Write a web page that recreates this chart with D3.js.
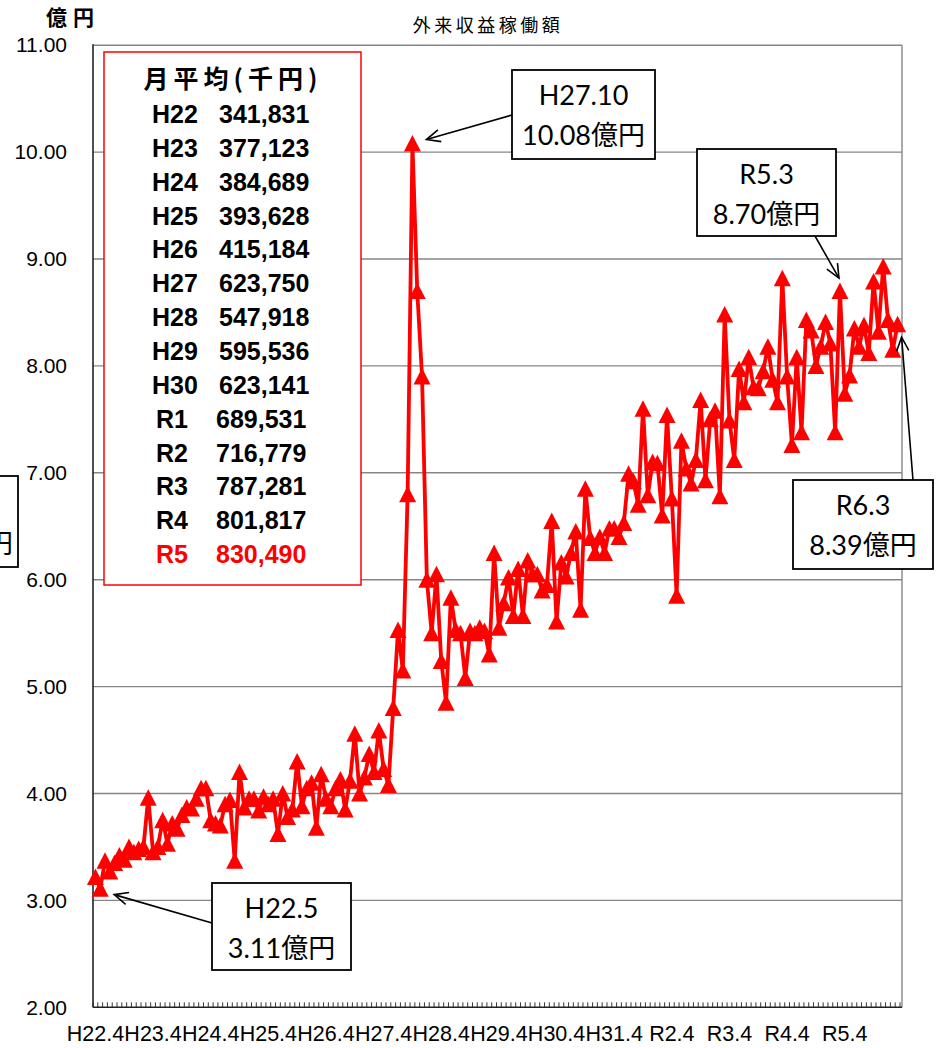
<!DOCTYPE html>
<html>
<head>
<meta charset="utf-8">
<script src="https://cdn.jsdelivr.net/npm/d3@7"></script>
<style>
  body { margin: 0; background: #fff; }
  svg { display: block; }
</style>
</head>
<body>
<div id="chart"></div>
<script>
// monthly 外来収益 (億円), one array per fiscal year, april -> march
const fyH22 = [3.22, 3.11, 3.37, 3.27, 3.35, 3.42, 3.38, 3.50, 3.45, 3.48, 3.50, 3.96]
const fyH23 = [3.45, 3.50, 3.75, 3.53, 3.72, 3.67, 3.80, 3.87, 3.86, 3.95, 4.05, 4.05]
const fyH24 = [3.75, 3.72, 3.70, 3.90, 3.94, 3.37, 4.20, 3.87, 3.95, 3.95, 3.84, 3.97]
const fyH25 = [3.90, 3.95, 3.62, 4.00, 3.78, 3.85, 4.30, 3.88, 4.05, 4.10, 3.68, 4.18]
const fyH26 = [3.95, 3.88, 4.05, 4.13, 3.85, 4.12, 4.56, 4.00, 4.15, 4.37, 4.20, 4.59]
const fyH27 = [4.23, 4.08, 4.80, 5.53, 5.15, 6.80, 10.08, 8.70, 7.90, 6.00, 5.50, 6.05]
const fyH28 = [5.24, 4.85, 5.83, 5.53, 5.50, 5.08, 5.52, 5.50, 5.55, 5.52, 5.30, 6.25]
const fyH29 = [5.55, 5.78, 6.02, 5.66, 6.10, 5.66, 6.18, 6.05, 6.05, 5.90, 5.95, 6.55]
const fyH30 = [5.61, 6.16, 6.03, 6.25, 6.45, 5.72, 6.85, 6.39, 6.25, 6.40, 6.25, 6.48]
const fyR1 = [6.48, 6.40, 6.53, 6.99, 6.92, 6.70, 7.60, 6.79, 7.10, 7.09, 6.60, 7.54]
const fyR2 = [6.76, 5.85, 7.30, 7.04, 6.90, 7.12, 7.68, 6.93, 7.50, 7.58, 6.78, 8.48]
const fyR3 = [7.49, 7.12, 7.97, 7.66, 8.08, 7.80, 7.79, 7.95, 8.18, 7.87, 7.66, 8.82]
const fyR4 = [7.90, 7.26, 8.08, 7.38, 8.43, 8.33, 8.00, 8.18, 8.41, 8.21, 7.38, 8.70]
const fyR5 = [7.74, 7.91, 8.35, 8.18, 8.38, 8.12, 8.79, 8.32, 8.93, 8.43, 8.15, 8.39]

const fiscalYears = [fyH22, fyH23, fyH24, fyH25, fyH26, fyH27, fyH28, fyH29, fyH30, fyR1, fyR2, fyR3, fyR4, fyR5]

const xTickLabels = ['H22.4', 'H23.4', 'H24.4', 'H25.4', 'H26.4', 'H27.4', 'H28.4', 'H29.4', 'H30.4', 'H31.4', 'R2.4', 'R3.4', 'R4.4', 'R5.4']
const yTicks = [2, 3, 4, 5, 6, 7, 8, 9, 10, 11]

// legend box: 月平均(千円)
const legendYears = ['H22', 'H23', 'H24', 'H25', 'H26', 'H27', 'H28', 'H29', 'H30', 'R1', 'R2', 'R3', 'R4', 'R5']
const legendAvgs = [341831, 377123, 384689, 393628, 415184, 623750, 547918, 595536, 623141, 689531, 716779, 787281, 801817, 830490]

// callouts: which month, second line
const calloutMonths = ['H27.10', 'R5.3', 'R6.3', 'H22.5']
const calloutTexts = ['10.08億円', '8.70億円', '8.39億円', '3.11億円']

// month names like H22.4 ... H31.4, R1.5 ... R6.3
function monthName(fy, m) {
  let yr = m >= 4 ? fy : fy + 1
  // reiwa starts may 2019 (H31 = 2019)
  if (yr > 31 || (yr === 31 && m >= 5)) return 'R' + (yr - 30) + '.' + m
  return 'H' + yr + '.' + m
}

const monthOrder = [4, 5, 6, 7, 8, 9, 10, 11, 12, 1, 2, 3]
let data = []
fiscalYears.forEach((vals, k) => {
  vals.forEach((v, j) => {
    data.push({ idx: data.length, name: monthName(22 + k, monthOrder[j]), value: v })
  })
})

const W = 938, H = 1048
const plotLeft = 93, plotRight = 900, plotTop = 45.2, plotBottom = 1007.3

let svg = d3.select('#chart').append('svg')
  .attr('width', W)
  .attr('height', H)

let x = d3.scaleBand()
  .domain(data.map(d => d.idx))
  .range([plotLeft, plotRight])

let y = d3.scaleLinear()
  .domain([2, 11])
  .range([plotBottom, plotTop])

const cx = i => x(i) + x.bandwidth() / 2

// gridlines
svg.append('g').selectAll('line')
  .data(yTicks.slice(1))
  .enter().append('line')
  .attr('x1', plotLeft).attr('x2', plotRight + 2)
  .attr('y1', d => y(d)).attr('y2', d => y(d))
  .attr('stroke', '#868686')
  .attr('stroke-width', 1.4)

// right border of plot area
svg.append('line')
  .attr('x1', plotRight + 2).attr('x2', plotRight + 2)
  .attr('y1', y(11)).attr('y2', y(2))
  .attr('stroke', '#868686').attr('stroke-width', 1.4)

// y axis labels
let yAxis = svg.append('g')
  .attr('transform', `translate(${plotLeft},0)`)
  .call(d3.axisLeft(y).tickValues(yTicks).tickFormat(d3.format('.2f')).tickSize(0).tickPadding(26))
yAxis.select('.domain').remove()
yAxis.selectAll('text')
  .attr('font-family', "'Liberation Sans', Arial, sans-serif")
  .attr('font-size', 21)
  .attr('fill', '#000')

// x axis labels, one per april
let xAxis = svg.append('g')
  .attr('transform', `translate(0,${plotBottom})`)
  .call(d3.axisBottom(x).tickValues(d3.range(0, data.length, 12)).tickFormat((d, i) => xTickLabels[i]).tickSize(0).tickPadding(18))
xAxis.select('.domain').remove()
xAxis.selectAll('text')
  .attr('font-family', "'Liberation Sans', Arial, sans-serif")
  .attr('font-size', 21.5)
  .attr('fill', '#000')

// small month ticks sitting on the axis
svg.append('g').selectAll('line')
  .data(d3.range(data.length + 1))
  .enter().append('line')
  .attr('x1', i => plotLeft + i * x.step()).attr('x2', i => plotLeft + i * x.step())
  .attr('y1', plotBottom).attr('y2', plotBottom - 5)
  .attr('stroke', '#222').attr('stroke-width', 0.9)

// axis lines
svg.append('line')
  .attr('x1', plotLeft).attr('x2', plotLeft)
  .attr('y1', y(11) - 1).attr('y2', plotBottom)
  .attr('stroke', '#222').attr('stroke-width', 1.6)
svg.append('line')
  .attr('x1', plotLeft).attr('x2', plotRight + 2)
  .attr('y1', plotBottom).attr('y2', plotBottom)
  .attr('stroke', '#222').attr('stroke-width', 1.6)

// title + unit
svg.append('text')
  .attr('x', 488).attr('y', 32)
  .attr('text-anchor', 'middle')
  .attr('font-family', "'Noto Sans CJK JP', sans-serif")
  .attr('font-size', 18)
  .attr('letter-spacing', 3.5)
  .text('外来収益稼働額')

svg.append('text')
  .attr('x', 46).attr('y', 25)
  .attr('font-family', "'Noto Sans CJK JP', sans-serif")
  .attr('font-size', 21)
  .attr('font-weight', 'bold')
  .attr('letter-spacing', 6)
  .text('億円')

// legend box with the yearly averages
let legend = svg.append('g')
legend.append('rect')
  .attr('x', 104).attr('y', 52)
  .attr('width', 257).attr('height', 533)
  .attr('fill', '#fff')
  .attr('stroke', '#ff0000')
  .attr('stroke-width', 1.5)

legend.append('text')
  .attr('x', 233).attr('y', 88)
  .attr('text-anchor', 'middle')
  .attr('font-family', "'Noto Sans CJK JP', sans-serif")
  .attr('font-size', 25)
  .attr('font-weight', 'bold')
  .attr('letter-spacing', 5)
  .text('月平均(千円)')

let rows = legend.selectAll('.row')
  .data(legendYears)
  .enter().append('g')
  .attr('class', 'row')
  .attr('font-family', "'Liberation Sans', Arial, sans-serif")
  .attr('font-size', 25)
  .attr('font-weight', 'bold')
  .attr('fill', (d, i) => i === legendYears.length - 1 ? '#ff0000' : '#000')

rows.append('text')
  .attr('x', d => d[0] === 'R' ? 156 : 152)
  .attr('y', (d, i) => 123 + i * 33.85)
  .text(d => d)

rows.append('text')
  .attr('x', d => d[0] === 'R' ? 216 : 219)
  .attr('y', (d, i) => 123 + i * 33.85)
  .text((d, i) => d3.format(',')(legendAvgs[i]))

// the red series
let line = d3.line()
  .x(d => cx(d.idx))
  .y(d => y(d.value))

svg.append('path')
  .datum(data)
  .attr('d', line)
  .attr('fill', 'none')
  .attr('stroke', '#ff0000')
  .attr('stroke-width', 3.8)
  .attr('stroke-linejoin', 'round')

svg.append('g').selectAll('path')
  .data(data)
  .enter().append('path')
  .attr('d', d => {
    let px = cx(d.idx), py = y(d.value)
    return `M${px},${py - 8.5}L${px + 8.5},${py + 8}L${px - 8.5},${py + 8}Z`
  })
  .attr('fill', '#ff0000')

// callout boxes + arrows
function arrow(g, x1, y1, x2, y2) {
  let a = Math.atan2(y2 - y1, x2 - x1), L = 15, w = 0.42
  g.append('line')
    .attr('x1', x1).attr('y1', y1).attr('x2', x2).attr('y2', y2)
    .attr('stroke', '#000').attr('stroke-width', 1.6)
  g.append('path')
    .attr('d', `M${x2 - L * Math.cos(a - w)},${y2 - L * Math.sin(a - w)}L${x2},${y2}L${x2 - L * Math.cos(a + w)},${y2 - L * Math.sin(a + w)}`)
    .attr('fill', 'none').attr('stroke', '#000').attr('stroke-width', 1.6)
}

// box position, where the arrow leaves the box, and offset of the tip from the point
const calloutLayout = [
  { bx: 512, by: 70, bw: 143, bh: 89, sx: 512, sy: 115, dx: 14, dy: -4 },
  { bx: 697, by: 149, bw: 139, bh: 87, sx: 815, sy: 236, dx: -1, dy: -13 },
  { bx: 793, by: 480, bw: 140, bh: 89, sx: 913, sy: 480, dx: 4, dy: 13 },
  { bx: 212, by: 883, bw: 139, bh: 87, sx: 212, sy: 923, dx: 14, dy: 6 }
]

let callouts = svg.append('g')
calloutMonths.forEach((m, i) => {
  let d = data.find(p => p.name === m)
  let c = calloutLayout[i]
  let g = callouts.append('g')
  g.append('rect')
    .attr('x', c.bx).attr('y', c.by)
    .attr('width', c.bw).attr('height', c.bh)
    .attr('fill', '#fff').attr('stroke', '#000').attr('stroke-width', 1.8)
  g.append('text')
    .attr('x', c.bx + c.bw / 2).attr('y', c.by + 35)
    .attr('text-anchor', 'middle')
    .attr('font-family', "Lato, 'Noto Sans CJK JP', sans-serif")
    .attr('font-size', 27)
    .text(m)
  g.append('text')
    .attr('x', c.bx + c.bw / 2).attr('y', c.by + 75)
    .attr('text-anchor', 'middle')
    .attr('font-family', "Lato, 'Noto Sans CJK JP', sans-serif")
    .attr('font-size', 27)
    .text(calloutTexts[i])
  arrow(g, c.sx, c.sy, cx(d.idx) + c.dx, y(d.value) + c.dy)
})

// box cut off by the left edge of the picture, only the end of its 円 shows
callouts.append('rect')
  .attr('x', -20).attr('y', 476)
  .attr('width', 38).attr('height', 91)
  .attr('fill', '#fff').attr('stroke', '#000').attr('stroke-width', 1.8)
callouts.append('text')
  .attr('x', 13).attr('y', 553)
  .attr('text-anchor', 'end')
  .attr('font-family', "'Noto Sans CJK JP', sans-serif")
  .attr('font-size', 27)
  .text('億円')
</script>
</body>
</html>
